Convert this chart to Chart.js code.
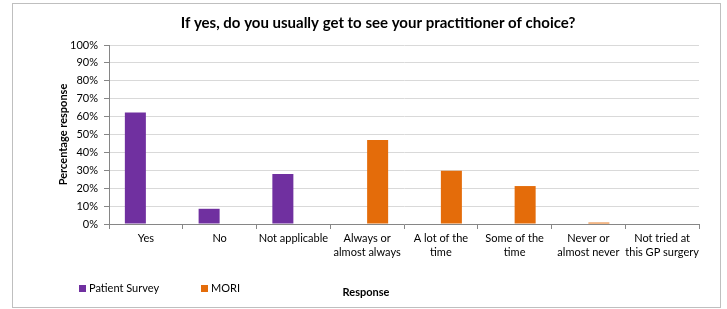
<!DOCTYPE html>
<html>
<head>
<meta charset="utf-8">
<script src="https://cdn.jsdelivr.net/npm/chart.js@4.4.0/dist/chart.umd.min.js"></script>
<style>
  html, body { margin: 0; padding: 0; background: #fff; }
  #wrap { position: relative; width: 727px; height: 309px; }
  #frame { position: absolute; left: 12px; top: 3px; width: 707px; height: 303px; border: 1px solid #bfbfbf; }
  canvas { position: absolute; left: 0; top: 0; }
</style>
</head>
<body>
<div id="wrap">
  <div id="frame"></div>
  <canvas id="chart" width="727" height="309"></canvas>
</div>
<script>
const categories = [
    'Yes', 'No', 'Not applicable',
    ['Always or', 'almost always'], ['A lot of the', 'time'], ['Some of the', 'time'],
    ['Never or', 'almost never'], ['Not tried at', 'this GP surgery']
];
const patientSurvey = [62.3, 8.5, 27.9, null, null, null, null, null];
const mori = [null, null, null, 46.9, 29.8, 21.2, 0.8, 0];
const yTicks = [0, 10, 20, 30, 40, 50, 60, 70, 80, 90, 100];

const chartTitle = 'If yes, do you usually get to see your practitioner of choice?';
const xTitle = 'Response';
const yTitle = 'Percentage response';

const fontFamily = 'Lato, "Open Sans", sans-serif';
const axisColor = '#868686';
const gridColor = '#d9d9d9';

// legend and x title sit on one line at the bottom, so draw them here
const bottomLine = {
    id: 'bottomLine',
    afterDraw(chart) {
        const ctx = chart.ctx;
        ctx.save();
        ctx.textBaseline = 'middle';
        const starts = [79, 201];
        chart.data.datasets.forEach((ds, i) => {
            ctx.fillStyle = ds.backgroundColor;
            ctx.fillRect(starts[i], 285, 7, 7);
            ctx.fillStyle = '#000';
            ctx.font = '11px ' + fontFamily;
            ctx.textAlign = 'left';
            ctx.fillText(ds.label, starts[i] + 10, 288.5);
        });
        ctx.font = 'bold 11px ' + fontFamily;
        ctx.textAlign = 'center';
        ctx.fillText(xTitle, 366, 292);
        ctx.restore();
    }
};

const ctx = document.getElementById('chart').getContext('2d');
var myChart = new Chart(ctx, {
    type: 'bar',
    data: {
        labels: categories,
        datasets: [{
            label: 'Patient Survey',
            data: patientSurvey,
            backgroundColor: '#7030a0',
            categoryPercentage: 0.57,
            barPercentage: 1
        }, {
            label: 'MORI',
            data: mori,
            backgroundColor: '#e46c0a',
            categoryPercentage: 0.57,
            barPercentage: 1
        }]
    },
    options: {
        responsive: false,
        animation: false,
        layout: { padding: { left: 57, right: 28, top: 0, bottom: 0 } },
        plugins: {
            legend: { display: false },
            tooltip: { enabled: false },
            title: {
                display: true,
                text: chartTitle,
                color: '#000',
                font: { family: fontFamily, size: 15, weight: 'bold' },
                padding: { top: 14, bottom: 13 }
            }
        },
        scales: {
            x: {
                grid: {
                    offset: true,
                    drawOnChartArea: false,
                    drawTicks: true,
                    tickLength: 5,
                    color: axisColor
                },
                border: { color: axisColor },
                ticks: {
                    color: '#000',
                    padding: 2,
                    maxRotation: 0,
                    autoSkip: false,
                    font: { family: fontFamily, size: 11, lineHeight: 1.3 }
                },
                afterFit: s => { s.height = 85; }
            },
            y: {
                min: 0,
                max: 100,
                afterBuildTicks: s => { s.ticks = yTicks.map(v => ({ value: v })); },
                grid: { color: gridColor, tickLength: 5, tickColor: axisColor },
                border: { color: axisColor },
                ticks: {
                    color: '#000',
                    padding: 6,
                    font: { family: fontFamily, size: 11 },
                    callback: v => v + '%'
                },
                title: {
                    display: true,
                    text: yTitle,
                    color: '#000',
                    font: { family: fontFamily, size: 11, weight: 'bold' },
                    padding: 0
                },
                afterFit: s => { s.width = 52; }
            }
        }
    },
    plugins: [bottomLine]
});
</script>
</body>
</html>
